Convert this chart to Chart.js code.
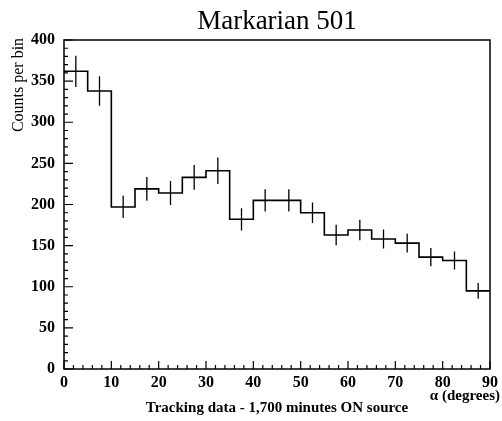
<!DOCTYPE html>
<html><head><meta charset="utf-8">
<script src="https://cdn.jsdelivr.net/npm/chart.js@4/dist/chart.umd.min.js"></script>
<style>html,body{margin:0;padding:0;background:#fff}#wrap{width:502px;height:421px;position:relative}</style>
</head><body><div id="wrap"><canvas id="c"></canvas></div>
<script>
// alpha bins (left edges, degrees)
const binLeft = [0,5,10,15,20,25,30,35,40,45,50,55,60,65,70,75,80,85];
const binWidth = 5;
// counts per bin
const counts = [362,338,197,219,214,233,241,182,205,205,190,163,169,158,153,136,132,95];
// statistical errors (half-length of vertical error bars)
const errors = [19,18,13.5,14.5,14.5,15,16,13.5,13.5,13.5,12.5,12.5,12.5,11.5,11.5,11,11,9.5];
const xTickValues = [0,10,20,30,40,50,60,70,80,90];
const yTickValues = [0,50,100,150,200,250,300,350,400];

const titleText = 'Markarian 501';
const xTitle = 'Tracking data - 1,700 minutes ON source';
const xUnit = 'α (degrees)';
const yTitle = 'Counts per bin';

const serif = "'Liberation Serif','Times New Roman',serif";

// histogram outline (stepped)
const histPoints = binLeft.map((x,i)=>({x:x,y:counts[i]}));
histPoints.push({x:binLeft[binLeft.length-1]+binWidth,y:counts[counts.length-1]});

// error bars as separate segments, separated by gaps
const errPoints = [];
binLeft.forEach((x,i)=>{
  const xc = x + binWidth/2;
  errPoints.push({x:xc,y:counts[i]-errors[i]});
  errPoints.push({x:xc,y:counts[i]+errors[i]});
  errPoints.push({x:xc,y:null});
});

const decor = {
  id:'decor',
  afterDatasetsDraw(chart){
    const {ctx, chartArea:a, scales:{x,y}} = chart;
    ctx.save();
    ctx.strokeStyle='#000';
    ctx.lineWidth=1.5;
    ctx.strokeRect(a.left,a.top,a.right-a.left,a.bottom-a.top);
    ctx.lineWidth=1.2;
    ctx.beginPath();
    for(let v=0; v<=400; v+=10){
      const py=y.getPixelForValue(v);
      const len = (v%50===0)?9:4;
      ctx.moveTo(a.left,py); ctx.lineTo(a.left+len,py);
    }
    for(let v=0; v<=90; v+=2){
      const px=x.getPixelForValue(v);
      const len = (v%10===0)?8:4;
      ctx.moveTo(px,a.bottom); ctx.lineTo(px,a.bottom-len);
    }
    ctx.stroke();
    ctx.fillStyle='#000';
    // title
    ctx.font = "27px " + serif;
    ctx.textAlign='center'; ctx.textBaseline='alphabetic';
    ctx.fillText(titleText,(a.left+a.right)/2,29);
    // y title
    ctx.save();
    ctx.translate(19,85);
    ctx.rotate(-Math.PI/2);
    ctx.font = "16px " + serif;
    ctx.textAlign='center'; ctx.textBaseline='middle';
    ctx.fillText(yTitle,0,0);
    ctx.restore();
    // x unit
    ctx.font = "bold 15px " + serif;
    ctx.textAlign='right'; ctx.textBaseline='middle';
    ctx.fillText(xUnit,500,396);
    ctx.restore();
  }
};

new Chart(document.getElementById('c'),{
  type:'line',
  data:{datasets:[
    {data:histPoints,stepped:'before',borderColor:'#000',borderWidth:1.6,pointRadius:0,fill:false},
    {data:errPoints,borderColor:'#000',borderWidth:1.3,pointRadius:0,spanGaps:false,fill:false}
  ]},
  options:{
    responsive:true,maintainAspectRatio:false,animation:false,devicePixelRatio:1,
    layout:{padding:{top:40,right:10,left:0,bottom:0}},
    plugins:{legend:{display:false},tooltip:{enabled:false},title:{display:false}},
    scales:{
      x:{type:'linear',min:0,max:90,
        afterFit(s){s.height=52;},
        afterBuildTicks(s){s.ticks=xTickValues.map(v=>({value:v}));},
        grid:{display:false,drawTicks:false},border:{display:false},
        ticks:{color:'#000',padding:4,font:{family:serif,size:16,weight:'bold'},maxRotation:0,autoSkip:false},
        title:{display:true,text:xTitle,color:'#000',font:{family:serif,size:15,weight:'bold'},padding:{top:0,bottom:4}}
      },
      y:{type:'linear',min:0,max:400,
        afterFit(s){s.width=64;},
        afterBuildTicks(s){s.ticks=yTickValues.map(v=>({value:v}));},
        grid:{display:false,drawTicks:false},border:{display:false},
        ticks:{color:'#000',padding:9,font:{family:serif,size:16,weight:'bold'}}
      }
    }
  },
  plugins:[decor]
});
</script>
</body></html>
